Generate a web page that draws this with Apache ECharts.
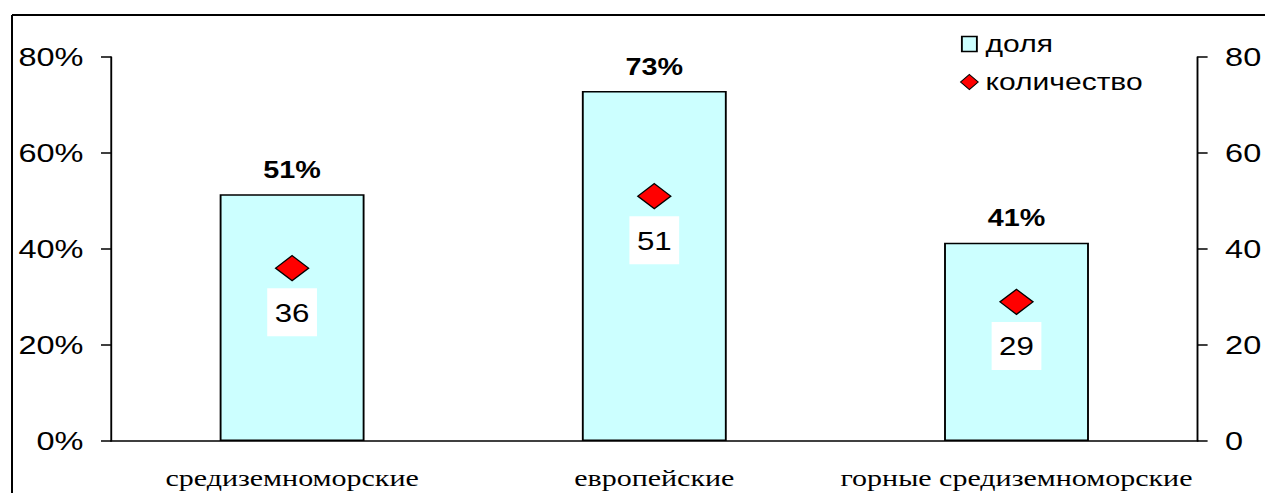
<!DOCTYPE html>
<html>
<head>
<meta charset="utf-8">
<script src="https://cdn.jsdelivr.net/npm/echarts@6/dist/echarts.min.js"></script>
<style>
html,body{margin:0;padding:0;background:#fff;overflow:hidden}
#wrap{width:1265px;height:493px;overflow:hidden;position:relative}
#c{width:1012px;height:493px;transform:scaleX(1.25);transform-origin:0 0;position:absolute;left:0;top:0}
</style>
</head>
<body>
<div id="wrap"><div id="c"></div></div>
<script>
const categories = ['средиземноморские', 'европейские', 'горные средиземноморские'];
const shareValues = [51.4, 72.9, 41.3];
const countValues = [36, 51, 29];
const leftTicks = [0, 20, 40, 60, 80];
const rightTicks = [0, 20, 40, 60, 80];

const SX = 1.25; // horizontal stretch of the original picture
const chart = echarts.init(document.getElementById('c'), null, {renderer: 'svg'});
chart.setOption({
  animation: false,
  backgroundColor: '#fff',
  graphic: [
    {type: 'line', shape: {x1: 12 / SX, y1: 15, x2: 12 / SX, y2: 500}, style: {stroke: '#000', lineWidth: 1.6}, silent: true},
    {type: 'line', shape: {x1: 12 / SX, y1: 15, x2: 1100, y2: 15}, style: {stroke: '#000', lineWidth: 2}, silent: true}
  ],
  grid: {left: 111 / SX, right: 65 / SX, top: 57, bottom: 52},
  legend: {
    orient: 'vertical', left: 960 / SX, top: 32, padding: 0, itemGap: 14, itemWidth: 14, itemHeight: 15,
    textStyle: {fontFamily: 'Arial, Liberation Sans', fontSize: 24, color: '#000', padding: [0, 0, 0, 1]},
    data: [
      {name: 'доля', icon: 'path://M0,0L8,0L8,10L0,10Z', itemStyle: {color: '#CCFFFF', borderColor: '#000', borderWidth: 1.5}},
      {name: 'количество', icon: 'diamond', itemStyle: {color: '#FF0000', borderColor: '#000', borderWidth: 1}}
    ]
  },
  xAxis: {
    type: 'category', data: categories,
    axisLine: {lineStyle: {color: '#000', width: 1.5}},
    axisTick: {length: 9, lineStyle: {color: '#000', width: 1.5}},
    axisLabel: {interval: 0, hideOverlap: false, color: '#000', fontFamily: 'Liberation Serif, Times New Roman, serif', fontSize: 24, margin: 25}
  },
  yAxis: [{
    type: 'value', min: leftTicks[0], max: leftTicks[leftTicks.length - 1], interval: 20,
    axisLine: {show: true, lineStyle: {color: '#000', width: 1.5}},
    axisTick: {show: true, length: 8, lineStyle: {color: '#000', width: 1.5}},
    splitLine: {show: false},
    axisLabel: {color: '#000', fontFamily: 'Arial, Liberation Sans', fontSize: 26, margin: 22, formatter: '{value}%'}
  }, {
    type: 'value', min: rightTicks[0], max: rightTicks[rightTicks.length - 1], interval: 20, position: 'right',
    axisLine: {show: true, lineStyle: {color: '#000', width: 1.5}},
    axisTick: {show: true, length: 8, lineStyle: {color: '#000', width: 1.5}},
    splitLine: {show: false},
    axisLabel: {color: '#000', fontFamily: 'Arial, Liberation Sans', fontSize: 26, margin: 22}
  }],
  series: [{
    name: 'доля', type: 'bar', data: shareValues, barWidth: '40%', yAxisIndex: 0,
    itemStyle: {color: '#CCFFFF', borderColor: '#000', borderWidth: 1.5},
    label: {show: true, position: 'top', distance: 13, color: '#000', fontWeight: 'bold',
      fontFamily: 'Arial, Liberation Sans', fontSize: 23,
      formatter: p => Math.round(p.value) + '%'}
  }, {
    name: 'количество', type: 'scatter', data: countValues, yAxisIndex: 1,
    symbol: 'diamond', symbolSize: [33 / SX, 25],
    itemStyle: {color: '#FF0000', borderColor: '#000', borderWidth: 1.2, opacity: 1},
    label: {show: true, position: 'bottom', distance: 7, color: '#000',
      fontFamily: 'Arial, Liberation Sans', fontSize: 25, backgroundColor: '#fff',
      padding: [12, 6, 11, 6], formatter: p => p.value}
  }]
});
</script>
</body>
</html>
